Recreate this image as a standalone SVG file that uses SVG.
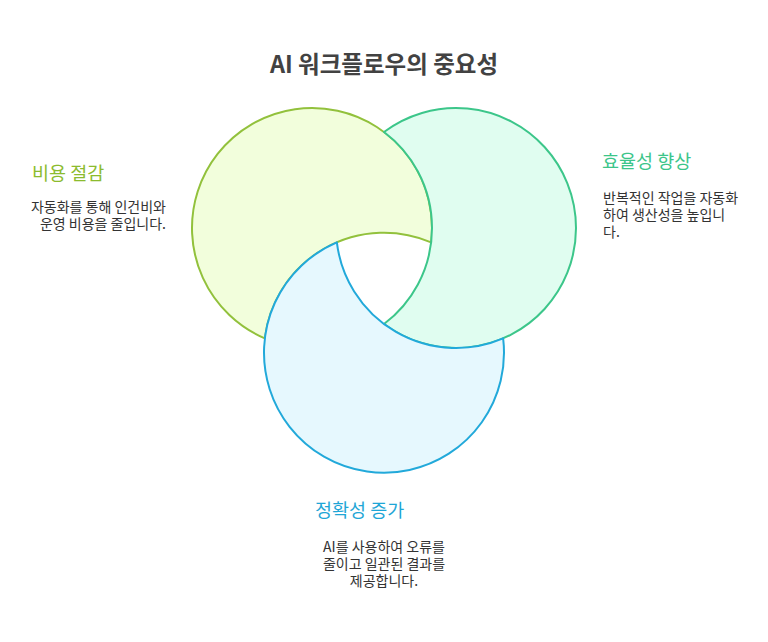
<svg xmlns="http://www.w3.org/2000/svg" width="768" height="642" viewBox="0 0 768 642">
  <style>
    text { font-family: "Noto Sans CJK KR", "Noto Sans", sans-serif; }
    .title { font-size: 23.5px; font-weight: bold; fill: #424242; }
    .head { font-size: 18.5px; }
    .body { font-size: 14px; fill: #333333; }
    .shape { stroke-width: 2; stroke-linejoin: round; }
  </style>
  <rect width="768" height="642" fill="#ffffff"/>
  <text class="title" x="384" y="73" text-anchor="middle">AI 워크플로우의 중요성</text>
  <g id="connectors"></g>
  <g id="cost">
    <path class="shape" fill="#f2fedc" stroke="#92c13c" d="M431.14,242.35 A120,120 0 1 0 264.86,338.35 A120,120 0 0 1 431.14,242.35 Z"/>
    <text class="head" x="32" y="179.5" fill="#8cbb2e">비용 절감</text>
    <text class="body" x="166" y="212" text-anchor="end">자동화를 통해 인건비와</text>
    <text class="body" x="166" y="229" text-anchor="end">운영 비용을 줄입니다.</text>
  </g>
  <g id="efficiency">
    <path class="shape" fill="#e0fdf0" stroke="#3cc68a" d="M384,132 A120,120 0 1 1 384,324 A120,120 0 0 0 384,132 Z"/>
    <text class="head" x="602" y="167.5" fill="#3cc58a">효율성 향상</text>
    <text class="body" x="603" y="203">반복적인 작업을 자동화</text>
    <text class="body" x="603" y="220">하여 생산성을 높입니</text>
    <text class="body" x="603" y="237">다.</text>
  </g>
  <g id="accuracy">
    <path class="shape" fill="#e6f8fe" stroke="#22a9da" d="M336.86,242.35 A120,120 0 1 0 503.14,338.35 A120,120 0 0 1 336.86,242.35 Z"/>
    <text class="head" x="315" y="516.5" fill="#1fa6d6">정확성 증가</text>
    <text class="body" x="384" y="552" text-anchor="middle">AI를 사용하여 오류를</text>
    <text class="body" x="384" y="569" text-anchor="middle">줄이고 일관된 결과를</text>
    <text class="body" x="384" y="586" text-anchor="middle">제공합니다.</text>
  </g>
</svg>
